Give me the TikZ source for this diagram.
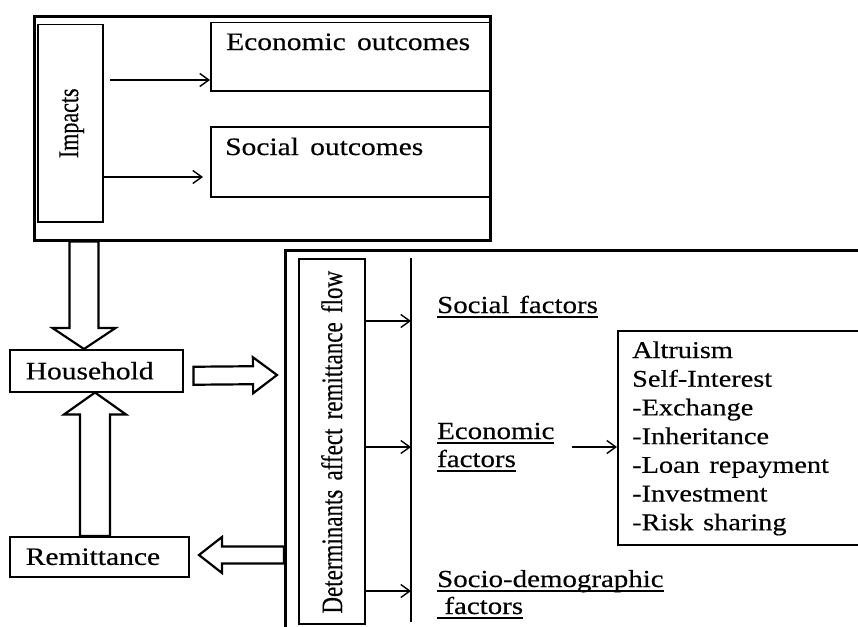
\documentclass[tikz,border=0pt]{standalone}
\usepackage{fontspec}
\usepackage{graphicx}
\setmainfont{Liberation Serif}[FakeStretch=1.18,FakeBold=0.4]
\newfontfamily\rotfont{Liberation Serif}[FakeBold=0.4]
\usetikzlibrary{arrows.meta,calc}
\newcommand{\myul}[1]{\sbox0{#1}\rlap{\rule[-4.5pt]{\wd0}{1.2pt}}\usebox0}
\newcommand{\blockarrow}[5]{%
\draw[blockarr] let \p1=(#1), \p2=(#2), \n1={veclen(\x2-\x1,\y2-\y1)}, \n2={(\x2-\x1)/\n1}, \n3={(\y2-\y1)/\n1} in
 ({\x1-#3*\n3},{\y1+#3*\n2}) -- ({\x2-#5*\n2-#3*\n3},{\y2-#5*\n3+#3*\n2}) -- ({\x2-#5*\n2-#4*\n3},{\y2-#5*\n3+#4*\n2}) -- (\p2) -- ({\x2-#5*\n2+#4*\n3},{\y2-#5*\n3-#4*\n2}) -- ({\x2-#5*\n2+#3*\n3},{\y2-#5*\n3-#3*\n2}) -- ({\x1+#3*\n3},{\y1-#3*\n2}) -- cycle;}
\tikzset{
  thickbox/.style={draw, line width=2.6pt, anchor=north west, inner sep=0pt},
  thinbox/.style={draw, line width=1.5pt, anchor=north west, inner sep=0pt},
  thinarr/.style={line width=1.4pt, -{Straight Barb[length=9pt,width=13pt,line width=1.4pt]}},
  blockarr/.style={draw, fill=white, line width=2.2pt, line join=miter},
  toptext/.style={anchor=base west, inner sep=0pt, font=\fontsize{25}{30}\selectfont},
  factext/.style={anchor=base west, inner sep=0pt, font=\fontsize{24.5}{28}\selectfont},
  listtext/.style={anchor=base west, inner sep=0pt, font=\fontsize{24}{28}\selectfont},
  lefttext/.style={font=\fontsize{25}{30}\selectfont, align=left, inner xsep=16pt}
}
\begin{document}
\begin{tikzpicture}[x=1pt,y=1pt]
\useasboundingbox (0,0) rectangle (858,-626);
\clip (0,0) rectangle (858,-626);

% top block
\node[thickbox, minimum width=456, minimum height=224] (tb) at (33,-15) {};
\node[thinbox, minimum width=65, minimum height=197] (imp) at (37,-24) {};
\node[rotate=90, inner sep=0pt, font=\rotfont\fontsize{22}{26}\selectfont] (impt) at ($(imp.center)+(1.5,0)$) {\scalebox{1}[1.3]{Impacts}};
\node[thinbox, minimum width=279, minimum height=68] (eo) at (210,-22) {};
\node[toptext] (eot) at (226,-50) {Economic\hspace{0.45em}outcomes};
\node[thinbox, minimum width=279, minimum height=70] (so) at (210,-126) {};
\node[toptext] (sot) at (225,-155) {Social\hspace{0.45em}outcomes};
\coordinate (a1s) at (110,-80);
\coordinate (a2s) at (imp.east |- 0,-177);
\coordinate (a2e) at (203,-177);
\draw[thinarr] (a1s) -- (a1s -| eo.west);
\draw[thinarr] (a2s) -- (a2e);

% left boxes
\node[thinbox, lefttext, minimum width=173, minimum height=42, text width=141pt] (hh) at (9,-349) {Household};
\node[thinbox, lefttext, minimum width=179, minimum height=40, text width=147pt] (rem) at (9,-536) {Remittance};

% bottom block
\node[thickbox, minimum width=620, minimum height=460] (bb) at (284,-249) {};
\node[thinbox, minimum width=66, minimum height=365] (det) at (298,-258) {};
\node[rotate=90, inner sep=0pt, font=\rotfont\fontsize{23}{27}\selectfont] (dett) at ($(det.center)+(0,-1)$) {\scalebox{1}[1.3]{Determinants\hspace{0.4em}affect\hspace{0.4em}remittance\hspace{0.4em}flow}};
\coordinate (vt) at (411,-258);
\coordinate (vb) at (411,-622);
\draw[line width=1.5pt] (vt) -- (vb);
\foreach \yy/\nm in {321/f1, 447/f2, 591/f3}{
  \coordinate (\nm) at (det.east |- 0,-\yy);
  \draw[thinarr] (\nm) -- (\nm -| vt);
}
\node[factext] (sf) at (437,-313) {\myul{Social\hspace{0.4em}factors}};
\node[factext] (ef1) at (437,-439) {\myul{Economic}};
\node[factext] (ef2) at (437,-467) {\myul{factors}};
\node[factext] (sd1) at (437,-587) {\myul{Socio-demographic}};
\node[factext] (sd2) at (437,-614) {\myul{\ factors}};

\node[thinbox, minimum width=270, minimum height=214] (lst) at (617,-330) {};
\coordinate (ea) at (572,-447);
\draw[thinarr] (ea) -- (ea -| lst.west);
\foreach \t [count=\i] in {Altruism, Self-Interest, -Exchange, -Inheritance, -Loan\hspace{0.4em}repayment, -Investment, -Risk\hspace{0.4em}sharing}{
  \node[listtext] (l\i) at (632,{-358-28.7*(\i-1)}) {\t};
}

% block arrows
\coordinate (d1) at (tb.south west -| 84,0);
\coordinate (d2) at (hh.north west -| 84,0);
\blockarrow{d1}{d2}{14.5}{31.5}{21}
\coordinate (u1) at (rem.north west -| 95,0);
\coordinate (u2) at (hh.south west -| 95,0);
\blockarrow{u1}{u2}{15}{31}{22}
\coordinate (r1) at ($(hh.east)+(10,-5)$);
\coordinate (r2) at (277,-375);
\blockarrow{r1}{r2}{9}{18}{24}
\coordinate (l1) at (bb.west |- 0,-555);
\coordinate (l2) at (199,-555);
\blockarrow{l1}{l2}{8.5}{18}{23}
\end{tikzpicture}
\end{document}
